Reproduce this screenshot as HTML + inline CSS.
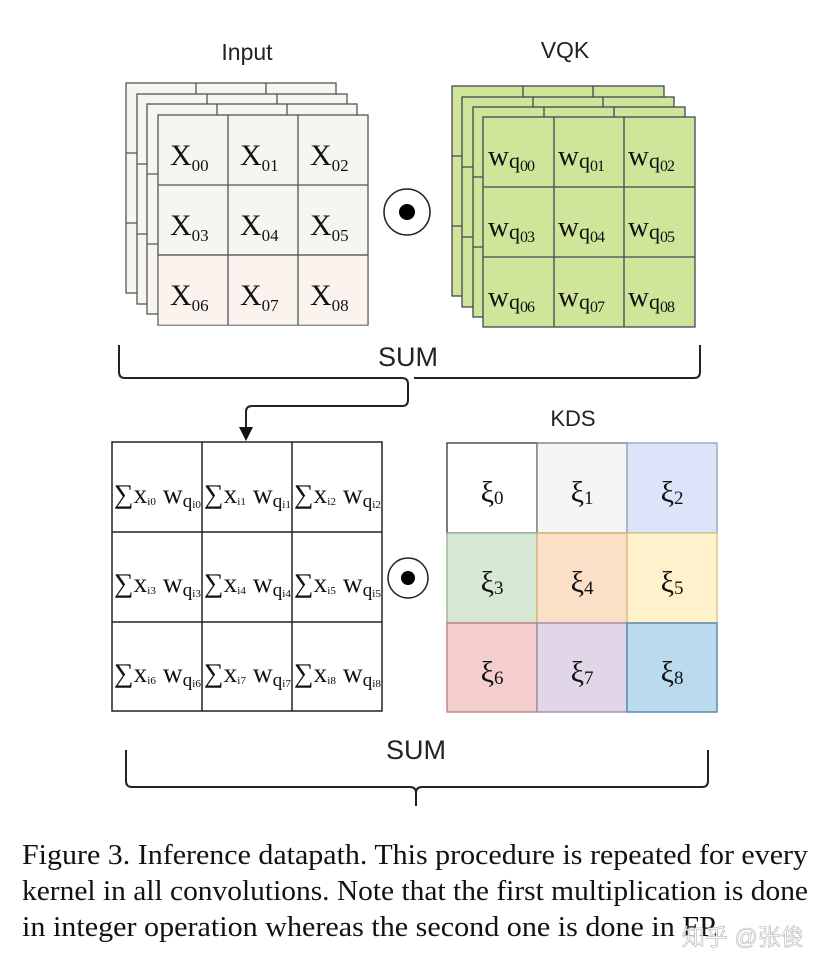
<!DOCTYPE html>
<html><head><meta charset="utf-8"><style>
html,body{margin:0;padding:0;background:#fff}
svg{display:block}
.s{font-family:"Liberation Sans",sans-serif;fill:#222}
.r{font-family:"Liberation Serif",serif;fill:#111}
</style></head><body>
<svg width="834" height="972" viewBox="0 0 834 972" xmlns="http://www.w3.org/2000/svg">
<defs>
<g id="gx">
<rect x="0" y="0" width="210" height="210" stroke="#555" stroke-width="1.3"/>
<path d="M70 0V210M140 0V210M0 70H210M0 140H210" stroke="#555" stroke-width="1.3" fill="none"/>
</g>
<g id="gq">
<rect x="0" y="0" width="212" height="210" stroke="#445" stroke-width="1.3"/>
<path d="M71 0V210M141 0V210M0 70H212M0 140H212" stroke="#445" stroke-width="1.3" fill="none"/>
</g>
</defs>
<text class="s" x="247" y="60" font-size="23" text-anchor="middle">Input</text>
<text class="s" x="565" y="58" font-size="23" text-anchor="middle">VQK</text>

<!-- Input cube -->
<use href="#gx" x="126" y="83" fill="#f7f5ef"/>
<use href="#gx" x="137" y="94" fill="#f7f5ef"/>
<use href="#gx" x="147" y="104" fill="#f7f5ef"/>
<use href="#gx" x="158" y="115" fill="#f7f5ef"/>
<rect x="158.7" y="255.7" width="208.6" height="69" fill="#fbf3ee"/>
<path d="M228 255V325M298 255V325M158 255H368" stroke="#555" stroke-width="1.3"/>
<g class="r" font-size="30">
<text x="170" y="165">X<tspan font-size="17" dy="6">00</tspan></text>
<text x="240" y="165">X<tspan font-size="17" dy="6">01</tspan></text>
<text x="310" y="165">X<tspan font-size="17" dy="6">02</tspan></text>
<text x="170" y="235">X<tspan font-size="17" dy="6">03</tspan></text>
<text x="240" y="235">X<tspan font-size="17" dy="6">04</tspan></text>
<text x="310" y="235">X<tspan font-size="17" dy="6">05</tspan></text>
<text x="170" y="305">X<tspan font-size="17" dy="6">06</tspan></text>
<text x="240" y="305">X<tspan font-size="17" dy="6">07</tspan></text>
<text x="310" y="305">X<tspan font-size="17" dy="6">08</tspan></text>
</g>

<circle cx="407" cy="212" r="23" fill="#fff" stroke="#222" stroke-width="1.5"/>
<circle cx="407" cy="212" r="8" fill="#000"/>

<!-- VQK cube -->
<use href="#gq" x="452" y="86" fill="#cfe69a"/>
<use href="#gq" x="462" y="97" fill="#cfe69a"/>
<use href="#gq" x="473" y="107" fill="#cfe69a"/>
<use href="#gq" x="483" y="117" fill="#cfe69a"/>
<g class="r" font-size="29">
<text x="488" y="165">w<tspan font-size="22" dy="3">q</tspan><tspan font-size="16" dy="3" letter-spacing="-1">00</tspan></text>
<text x="558" y="165">w<tspan font-size="22" dy="3">q</tspan><tspan font-size="16" dy="3" letter-spacing="-1">01</tspan></text>
<text x="628" y="165">w<tspan font-size="22" dy="3">q</tspan><tspan font-size="16" dy="3" letter-spacing="-1">02</tspan></text>
<text x="488" y="236">w<tspan font-size="22" dy="3">q</tspan><tspan font-size="16" dy="3" letter-spacing="-1">03</tspan></text>
<text x="558" y="236">w<tspan font-size="22" dy="3">q</tspan><tspan font-size="16" dy="3" letter-spacing="-1">04</tspan></text>
<text x="628" y="236">w<tspan font-size="22" dy="3">q</tspan><tspan font-size="16" dy="3" letter-spacing="-1">05</tspan></text>
<text x="488" y="306">w<tspan font-size="22" dy="3">q</tspan><tspan font-size="16" dy="3" letter-spacing="-1">06</tspan></text>
<text x="558" y="306">w<tspan font-size="22" dy="3">q</tspan><tspan font-size="16" dy="3" letter-spacing="-1">07</tspan></text>
<text x="628" y="306">w<tspan font-size="22" dy="3">q</tspan><tspan font-size="16" dy="3" letter-spacing="-1">08</tspan></text>
</g>

<!-- top brace -->
<text class="s" x="408" y="366" font-size="27" text-anchor="middle">SUM</text>
<path d="M119 345V372Q119 378 125 378H402Q408 378 408 384V400Q408 406 402 406H252Q246 406 246 412V430" fill="none" stroke="#222" stroke-width="2"/>
<path d="M414 378H694Q700 378 700 372V345" fill="none" stroke="#222" stroke-width="2"/>
<path d="M239 427L253 427L246 441Z" fill="#111"/>

<text class="s" x="573" y="426" font-size="22" text-anchor="middle">KDS</text>

<!-- sum grid -->
<rect x="112" y="442" width="270" height="269" fill="#fff" stroke="#222" stroke-width="1.5"/>
<path d="M202 442V711M292 442V711M112 532H382M112 622H382" stroke="#222" stroke-width="1.5"/>
<g class="r" font-size="27">
<text x="114" y="503" textLength="87" lengthAdjust="spacingAndGlyphs">∑x<tspan font-size="11" dy="2">i0</tspan><tspan dy="-2"> w</tspan><tspan font-size="19" dy="4">q</tspan><tspan font-size="11" dy="1">i0</tspan></text>
<text x="204" y="503" textLength="87" lengthAdjust="spacingAndGlyphs">∑x<tspan font-size="11" dy="2">i1</tspan><tspan dy="-2"> w</tspan><tspan font-size="19" dy="4">q</tspan><tspan font-size="11" dy="1">i1</tspan></text>
<text x="294" y="503" textLength="87" lengthAdjust="spacingAndGlyphs">∑x<tspan font-size="11" dy="2">i2</tspan><tspan dy="-2"> w</tspan><tspan font-size="19" dy="4">q</tspan><tspan font-size="11" dy="1">i2</tspan></text>
<text x="114" y="592" textLength="87" lengthAdjust="spacingAndGlyphs">∑x<tspan font-size="11" dy="2">i3</tspan><tspan dy="-2"> w</tspan><tspan font-size="19" dy="4">q</tspan><tspan font-size="11" dy="1">i3</tspan></text>
<text x="204" y="592" textLength="87" lengthAdjust="spacingAndGlyphs">∑x<tspan font-size="11" dy="2">i4</tspan><tspan dy="-2"> w</tspan><tspan font-size="19" dy="4">q</tspan><tspan font-size="11" dy="1">i4</tspan></text>
<text x="294" y="592" textLength="87" lengthAdjust="spacingAndGlyphs">∑x<tspan font-size="11" dy="2">i5</tspan><tspan dy="-2"> w</tspan><tspan font-size="19" dy="4">q</tspan><tspan font-size="11" dy="1">i5</tspan></text>
<text x="114" y="682" textLength="87" lengthAdjust="spacingAndGlyphs">∑x<tspan font-size="11" dy="2">i6</tspan><tspan dy="-2"> w</tspan><tspan font-size="19" dy="4">q</tspan><tspan font-size="11" dy="1">i6</tspan></text>
<text x="204" y="682" textLength="87" lengthAdjust="spacingAndGlyphs">∑x<tspan font-size="11" dy="2">i7</tspan><tspan dy="-2"> w</tspan><tspan font-size="19" dy="4">q</tspan><tspan font-size="11" dy="1">i7</tspan></text>
<text x="294" y="682" textLength="87" lengthAdjust="spacingAndGlyphs">∑x<tspan font-size="11" dy="2">i8</tspan><tspan dy="-2"> w</tspan><tspan font-size="19" dy="4">q</tspan><tspan font-size="11" dy="1">i8</tspan></text>
</g>

<circle cx="408" cy="578" r="20" fill="#fff" stroke="#222" stroke-width="1.5"/>
<circle cx="408" cy="578" r="7" fill="#000"/>

<!-- KDS grid -->
<rect x="447" y="443" width="90" height="90" fill="#ffffff" stroke="#333" stroke-width="1.3"/>
<rect x="537" y="443" width="90" height="90" fill="#f5f5f5" stroke="#777" stroke-width="1.3"/>
<rect x="627" y="443" width="90" height="90" fill="#dbe4f8" stroke="#8fa0c8" stroke-width="1.3"/>
<rect x="447" y="533" width="90" height="90" fill="#d6e8d4" stroke="#8fb08a" stroke-width="1.3"/>
<rect x="537" y="533" width="90" height="90" fill="#fbdfc6" stroke="#d9b070" stroke-width="1.3"/>
<rect x="627" y="533" width="90" height="90" fill="#fff1cc" stroke="#d6c07a" stroke-width="1.3"/>
<rect x="447" y="623" width="90" height="89" fill="#f4cdcd" stroke="#b57a7a" stroke-width="1.3"/>
<rect x="537" y="623" width="90" height="89" fill="#e1d6e7" stroke="#9a86a8" stroke-width="1.3"/>
<rect x="627" y="623" width="90" height="89" fill="#b9dbed" stroke="#5d8aab" stroke-width="1.5"/>
<g class="r" font-size="30" text-anchor="middle">
<text x="492" y="502">ξ<tspan font-size="19" dy="2">0</tspan></text>
<text x="582" y="502">ξ<tspan font-size="19" dy="2">1</tspan></text>
<text x="672" y="502">ξ<tspan font-size="19" dy="2">2</tspan></text>
<text x="492" y="592">ξ<tspan font-size="19" dy="2">3</tspan></text>
<text x="582" y="592">ξ<tspan font-size="19" dy="2">4</tspan></text>
<text x="672" y="592">ξ<tspan font-size="19" dy="2">5</tspan></text>
<text x="492" y="682">ξ<tspan font-size="19" dy="2">6</tspan></text>
<text x="582" y="682">ξ<tspan font-size="19" dy="2">7</tspan></text>
<text x="672" y="682">ξ<tspan font-size="19" dy="2">8</tspan></text>
</g>

<!-- bottom brace -->
<text class="s" x="416" y="759" font-size="27" text-anchor="middle">SUM</text>
<path d="M126 750V781Q126 787 132 787H410Q416 787 416 793V806M416 793Q416 787 422 787H702Q708 787 708 781V750" fill="none" stroke="#222" stroke-width="2"/>

<!-- caption -->
<g class="r" font-size="28" fill="#000">
<text x="22" y="864" textLength="786" lengthAdjust="spacingAndGlyphs">Figure 3. Inference datapath. This procedure is repeated for every</text>
<text x="22" y="900" textLength="786" lengthAdjust="spacingAndGlyphs">kernel in all convolutions. Note that the first multiplication is done</text>
<text x="22" y="936" textLength="698" lengthAdjust="spacingAndGlyphs">in integer operation whereas the second one is done in FP.</text>
</g>
<text x="682" y="945" font-family="'Liberation Sans','Noto Sans CJK SC',sans-serif" font-size="23" fill="#fff" stroke="#aaa" stroke-width="0.6" opacity="0.9">知乎 @张俊</text>
</svg>
</body></html>
